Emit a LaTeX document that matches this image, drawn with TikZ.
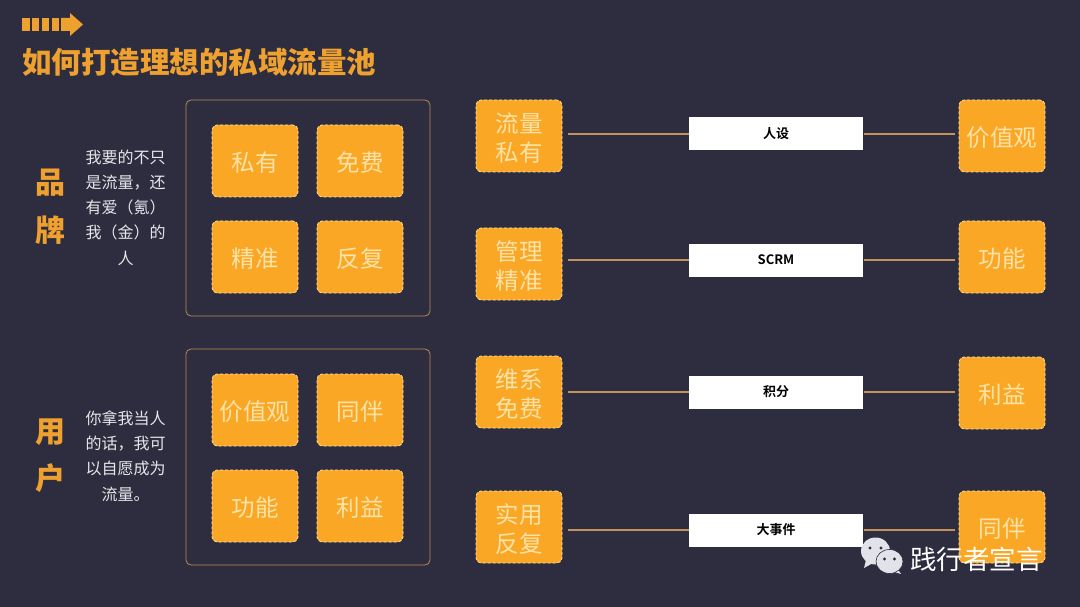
\documentclass[tikz,border=0pt]{standalone}
\usepackage{fontspec}
\setmainfont{Noto Sans CJK SC}[BoldFont={Noto Sans CJK SC Bold}]
\newfontfamily\heavyfont{Noto Sans CJK SC Black}
\usetikzlibrary{positioning,calc}
\definecolor{bgdark}{HTML}{2E2D3F}
\definecolor{amber}{HTML}{FAA726}
\definecolor{cream}{HTML}{FDE3A8}
\definecolor{titleamber}{HTML}{EFA12F}
\definecolor{framecol}{HTML}{B98A55}
\definecolor{linkcol}{HTML}{C4925C}
\definecolor{deskcol}{HTML}{E6E6EA}
\definecolor{iconcol}{HTML}{E2E3EA}
\newcommand{\fsz}[1]{\fontsize{#1}{#1}\selectfont}
\newcommand{\lowtxt}[1]{\raisebox{-2pt}[\height][\depth]{#1}}

\begin{document}
\begin{tikzpicture}
[x=1pt,y=-1pt,
tile/.style={fill=amber,draw=cream,densely dashed,line width=.8pt,rounded corners=5pt,
  minimum width=86pt,minimum height=72pt,inner sep=0pt,align=center,text=cream,
  font=\fsz{23.5},execute at begin node=\setlength{\baselineskip}{29pt}},
frame/.style={draw=framecol,line width=.8pt,rounded corners=5pt,minimum width=244pt,minimum height=216pt,inner sep=0pt},
tag/.style={fill=white,minimum width=174pt,minimum height=33pt,inner sep=0pt,text=black,font=\fsz{13}\bfseries},
link/.style={draw=linkcol,line width=1.5pt,shorten <=6pt,shorten >=4pt},
head/.style={text=titleamber,font=\fsz{30}\heavyfont,inner sep=0pt},
desc/.style={text=deskcol,align=center,inner sep=0pt,font=\fsz{16},execute at begin node=\setlength{\baselineskip}{25.2pt}},
blob/.style={fill=iconcol,draw=bgdark,line width=.6pt}]
\fill[bgdark] (0,0) rectangle (1080,607);

% title arrow
\fill[titleamber] (22,18) rectangle (30,31);
\fill[titleamber] (32,18) rectangle (39,31);
\fill[titleamber] (42,18) rectangle (49,31);
\fill[titleamber] (52,18) rectangle (59,31);
\fill[titleamber] (61,18) -- (70,18) -- (70,13) -- (83,24.5) -- (70,36) -- (70,31) -- (61,31) -- cycle;
\node[anchor=west,text=titleamber,font=\fsz{29.5}\heavyfont,inner sep=0pt] (title) at (22,62) {如何打造理想的私域流量池};

% brand side
\node[head] (pin) at (50,183) {品};
\node[head] (pai) at (50,230) {牌};
\node[desc] (brandtxt) at (125.5,207.5) {我要的不只\\是流量，还\\有爱（氪）\\我（金）的\\人};
\node[frame] (brandbox) at (308,208) {};
\node[tile] (siyou) at (255,161) {\lowtxt{私有}};
\node[tile] (mianfei) at (360,161) {\lowtxt{免费}};
\node[tile] (jingzhun) at (255,257) {\lowtxt{精准}};
\node[tile] (fanfu) at (360,257) {\lowtxt{反复}};

% user side
\node[head] (yong) at (50,432) {用};
\node[head] (hu) at (50,478) {户};
\node[desc] (usertxt) at (125.5,456) {你拿我当人\\的话，我可\\以自愿成为\\流量。};
\node[frame] (userbox) at (308,457) {};
\node[tile] (jiazhi) at (255,410) {\lowtxt{价值观}};
\node[tile] (tongban) at (360,410) {\lowtxt{同伴}};
\node[tile] (gongneng) at (255,506) {\lowtxt{功能}};
\node[tile] (liyi) at (360,506) {\lowtxt{利益}};

% rows
\node[tile] (a1) at (519,136) {\lowtxt{流量}\\\lowtxt{私有}};
\node[tile] (a2) at (519,264) {\lowtxt{管理}\\\lowtxt{精准}};
\node[tile] (a3) at (519,392) {\lowtxt{维系}\\\lowtxt{免费}};
\node[tile] (a4) at (519,527) {\lowtxt{实用}\\\lowtxt{反复}};
\node[tag] (t1) at (776,134) {人设};
\node[tag] (t2) at (776,260) {SCRM};
\node[tag] (t3) at (776,392) {积分};
\node[tag] (t4) at (776,530) {大事件};
\node[tile] (b1) at (1002,136) {\lowtxt{价值观}};
\node[tile] (b2) at (1002,257) {\lowtxt{功能}};
\node[tile] (b3) at (1002,393) {\lowtxt{利益}};
\node[tile] (b4) at (1002,527) {\lowtxt{同伴}};
\draw[link,shorten >=0pt] (a1.east |- t1) -- (t1.west);
\draw[link,shorten >=0pt] (a2.east |- t2) -- (t2.west);
\draw[link,shorten >=0pt] (a3.east |- t3) -- (t3.west);
\draw[link,shorten >=0pt] (a4.east |- t4) -- (t4.west);
\draw[link,shorten <=1pt] (t1.east) -- (t1.east -| b1.west);
\draw[link,shorten <=1pt] (t2.east) -- (t2.east -| b2.west);
\draw[link,shorten <=1pt] (t3.east) -- (t3.east -| b3.west);
\draw[link,shorten <=1pt] (t4.east) -- (t4.east -| b4.west);

% watermark
\fill[iconcol] (866,560) -- (864,568) -- (873,563) -- cycle;
\fill[iconcol] (875.5,551) ellipse (14.5pt and 13.5pt);
\fill[bgdark] (870,548) circle (1.7pt) (881,548) circle (1.7pt);
\fill[iconcol] (897,568) -- (901,574) -- (891,571) -- cycle;
\path[blob] (889.5,561.5) ellipse (13.5pt and 12pt);
\fill[bgdark] (884.5,559) circle (1.6pt) (894.5,559) circle (1.6pt);
\node[anchor=west,text=white,inner sep=0pt,font=\fsz{26.5}] (mark) at (910,559) {践行者宣言};
\end{tikzpicture}
\end{document}
